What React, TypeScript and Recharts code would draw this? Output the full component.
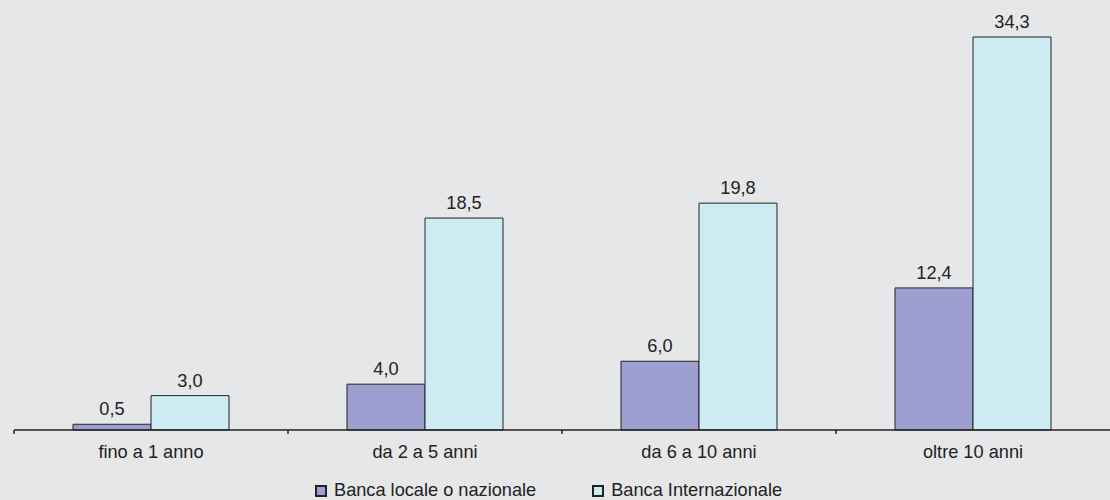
import { BarChart, Bar, XAxis, YAxis, Legend, LabelList } from 'recharts';

const CATEGORIES = ['fino a 1 anno', 'da 2 a 5 anni', 'da 6 a 10 anni', 'oltre 10 anni'];
const LOCALE = [0.5, 4.0, 6.0, 12.4];
const INTERNAZIONALE = [3.0, 18.5, 19.8, 34.3];
const SERIES_NAMES = ['Banca locale o nazionale', 'Banca Internazionale'];

const data = CATEGORIES.map((name, i) => ({
    name,
    locale: LOCALE[i],
    internazionale: INTERNAZIONALE[i],
}));

const FONT = '"Liberation Sans", Arial, Helvetica, sans-serif';
const FONT_SIZE = 18.2;
const TEXT = '#222';
const COLORS = ['#9e9fd1', '#cdebf2'];
const BG = '#e6e7e9';

const fmt = (v: any) => Number(v).toFixed(1).replace('.', ',');

// category label plus a short tick on the left boundary of each band
const CategoryTick = (props: any) => {
    const { x, y, payload } = props;
    const half = payload?.offset ?? 137;
    return (
        <g>
            <line x1={x - half} y1={y} x2={x - half} y2={y + 4} stroke="#222" strokeWidth={1.5} />
            <text x={x} y={y + 28} textAnchor="middle" fill={TEXT} fontSize={FONT_SIZE} fontFamily={FONT}>
                {payload.value}
            </text>
        </g>
    );
};

const LegendContent = () => (
    <div style={{ display: 'flex', alignItems: 'center', paddingLeft: 301, paddingTop: 21, height: 40, boxSizing: 'border-box', fontFamily: FONT, fontSize: FONT_SIZE, color: TEXT }}>
        {SERIES_NAMES.map((n, i) => (
            <div key={n} style={{ display: 'flex', alignItems: 'center', marginRight: 56 }}>
                <span style={{ width: 8, height: 8, background: COLORS[i], border: '2px solid #222', marginRight: 7, display: 'inline-block' }} />
                <span>{n}</span>
            </div>
        ))}
    </div>
);

export default function App() {
    return (
        <div style={{ position: 'absolute', top: 0, left: 0, width: 1110, height: 500, background: BG }}>
            <BarChart
                width={1110}
                height={500}
                data={data}
                margin={{ top: 29, right: 0, left: 14, bottom: 0 }}
                barGap={0}
            >
                <XAxis
                    dataKey="name"
                    height={30}
                    axisLine={{ stroke: '#222', strokeWidth: 1.5 }}
                    tickLine={false}
                    tickSize={0}
                    tickMargin={0}
                    interval={0}
                    tick={<CategoryTick />}
                />
                <YAxis hide domain={[0, 35]} />
                <Legend verticalAlign="bottom" content={<LegendContent />} wrapperStyle={{ height: 40 }} />
                <Bar dataKey="locale" name={SERIES_NAMES[0]} fill={COLORS[0]} stroke="#222" strokeWidth={1} barSize={78} isAnimationActive={false}>
                    <LabelList dataKey="locale" position="top" offset={9} formatter={fmt} fill={TEXT} fontSize={FONT_SIZE} fontFamily={FONT} />
                </Bar>
                <Bar dataKey="internazionale" name={SERIES_NAMES[1]} fill={COLORS[1]} stroke="#222" strokeWidth={1} barSize={78} isAnimationActive={false}>
                    <LabelList dataKey="internazionale" position="top" offset={9} formatter={fmt} fill={TEXT} fontSize={FONT_SIZE} fontFamily={FONT} />
                </Bar>
            </BarChart>
        </div>
    );
}
